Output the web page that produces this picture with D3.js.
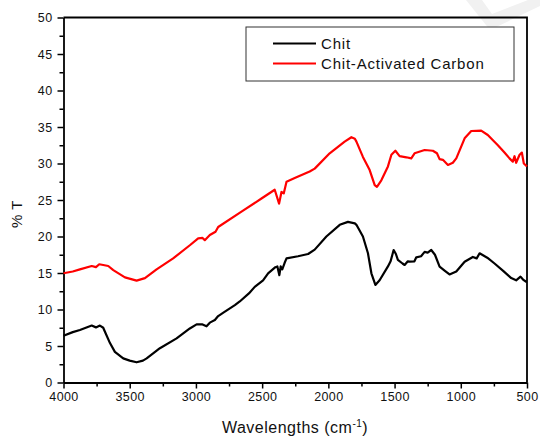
<!DOCTYPE html>
<html>
<head>
<meta charset="utf-8">
<script src="https://cdn.jsdelivr.net/npm/d3@7"></script>
<style>
  body { margin: 0; background: #fff; }
  svg text { font-family: "Liberation Sans", Arial, sans-serif; fill: #111; }
</style>
</head>
<body>
<svg id="chart" width="540" height="438"></svg>
<script>
// Chit (black)
const chitWn = [4000,3930,3876,3787,3755,3725,3700,3687,3649,3612,3549,3500,3448,3400,3372,3272,3146,3046,2995,2950,2920,2895,2857,2832,2790,2706,2669,2600,2556,2493,2455,2400,2385,2370,2360,2348,2330,2316,2229,2153,2103,2015,1914,1852,1800,1788,1739,1701,1675,1645,1613,1550,1530,1507,1490,1475,1440,1424,1400,1386,1350,1336,1300,1273,1250,1223,1195,1160,1120,1085,1034,971,909,880,858,800,745,680,619,582,549,530,506,500];
const chitT = [6.4,6.9,7.2,7.8,7.55,7.8,7.5,6.96,5.4,4.2,3.3,3.0,2.77,3.0,3.3,4.7,6.05,7.4,7.97,7.95,7.7,8.2,8.56,9.1,9.6,10.6,11.1,12.2,13.1,14.0,14.95,15.8,15.9,14.7,15.9,15.5,16.4,17.0,17.3,17.6,18.2,20.0,21.6,22.0,21.8,21.6,20.0,17.7,14.96,13.36,14.0,15.9,16.6,18.15,17.6,16.8,16.3,16.1,16.6,16.55,16.6,17.15,17.3,17.9,17.8,18.15,17.5,15.86,15.3,14.8,15.2,16.55,17.2,17.0,17.7,17.1,16.3,15.3,14.3,14.0,14.5,14.1,13.8,13.8];

// Chit-Activated Carbon (red)
const carbonWn = [4000,3930,3876,3787,3755,3730,3700,3662,3624,3536,3448,3385,3297,3172,3046,2983,2950,2933,2895,2852,2832,2656,2505,2405,2372,2354,2337,2316,2254,2141,2103,1990,1877,1826,1800,1788,1739,1688,1650,1633,1600,1550,1524,1494,1462,1411,1374,1349,1273,1211,1180,1160,1135,1097,1060,1034,971,921,846,796,720,670,632,607,594,582,556,539,524,506,500];
const carbonT = [14.96,15.2,15.5,15.96,15.8,16.2,16.1,15.96,15.4,14.4,13.95,14.3,15.5,17.0,18.8,19.75,19.8,19.5,20.2,20.66,21.3,23.4,25.2,26.4,24.5,26.1,25.9,27.5,28.0,28.9,29.3,31.4,33.0,33.6,33.4,33.0,30.9,29.1,27.05,26.8,27.7,29.6,31.2,31.75,31.0,30.85,30.7,31.4,31.85,31.75,31.4,30.6,30.5,29.8,30.1,30.7,33.45,34.45,34.5,33.9,32.5,31.5,30.7,30.25,31.0,30.1,31.2,31.5,30.0,29.7,29.6];

const seriesNames = ["Chit", "Chit-Activated Carbon"];
const seriesColors = ["#000000", "#ff0000"];
const xTicks = [4000, 3500, 3000, 2500, 2000, 1500, 1000, 500];
const yTicks = [0, 5, 10, 15, 20, 25, 30, 35, 40, 45, 50];

const svg = d3.select("#chart");

// faint watermark in the corner
svg.append("path")
  .attr("d", "M466,0 L482,0 L492,14 L528,0 L540,0 L540,6 L490,30 Z")
  .style("fill", "#f1f1f1");

const x = d3.scaleLinear().domain([4000, 500]).range([63.5, 527]);
const y = d3.scaleLinear().domain([0, 50]).range([382.5, 17.5]);

// minor ticks
svg.append("g")
  .attr("transform", "translate(0,382.5)")
  .call(d3.axisBottom(x).tickValues(d3.range(3750, 500, -500)).tickSize(4).tickFormat(""))
  .call((g) => g.select(".domain").remove())
  .selectAll("line").style("stroke-width", 1.5);

svg.append("g")
  .attr("transform", "translate(63.5,0)")
  .call(d3.axisLeft(y).tickValues(d3.range(2.5, 50, 5)).tickSize(4).tickFormat(""))
  .call((g) => g.select(".domain").remove())
  .selectAll("line").style("stroke-width", 1.5);

// major axes
let xAxis = svg.append("g")
  .attr("transform", "translate(0,382.5)")
  .call(d3.axisBottom(x).tickValues(xTicks).tickSize(6).tickSizeOuter(0).tickPadding(4).tickFormat(d3.format("d")));
xAxis.selectAll("line").style("stroke-width", 1.5);
xAxis.selectAll("text").style("font-size", "12.5px").style("letter-spacing", "0.4px");

let yAxis = svg.append("g")
  .attr("transform", "translate(63.5,0)")
  .call(d3.axisLeft(y).tickValues(yTicks).tickSize(6).tickSizeOuter(0).tickPadding(5).tickFormat(d3.format("d")));
yAxis.selectAll("line").style("stroke-width", 1.5);
yAxis.selectAll("text").style("font-size", "12.5px").style("letter-spacing", "0.4px");

svg.selectAll(".domain").style("stroke-width", 1.8);

// top and right frame
svg.append("path")
  .attr("d", `M${x(4000)},${y(50)} H${x(500)} V${y(0)}`)
  .style("fill", "none")
  .style("stroke", "#000")
  .style("stroke-width", 1.8);

// curves
let line = d3.line()
  .x((d) => x(d[0]))
  .y((d) => y(d[1]));

let chitData = chitWn.map((w, i) => [w, chitT[i]]);
let carbonData = carbonWn.map((w, i) => [w, carbonT[i]]);

[chitData, carbonData].forEach((data, i) => {
  svg.append("path")
    .datum(data)
    .attr("d", line)
    .style("fill", "none")
    .style("stroke", seriesColors[i])
    .style("stroke-width", 2.2)
    .style("stroke-linejoin", "round");
});

// axis titles
svg.append("text")
  .attr("transform", "translate(22,214) rotate(-90)")
  .attr("text-anchor", "middle")
  .style("font-size", "15px")
  .style("letter-spacing", "0.5px")
  .text("% T");

let xTitle = svg.append("text")
  .attr("x", 295)
  .attr("y", 433)
  .attr("text-anchor", "middle")
  .style("font-size", "16px")
  .style("letter-spacing", "0.5px");
xTitle.append("tspan").text("Wavelengths (cm");
xTitle.append("tspan").attr("dy", -6).style("font-size", "10px").text("-1");
xTitle.append("tspan").attr("dy", 6).text(")");

// legend
let legend = svg.append("g");
legend.append("rect")
  .attr("x", 246)
  .attr("y", 27)
  .attr("width", 268)
  .attr("height", 54)
  .style("fill", "#fff")
  .style("stroke", "#333")
  .style("stroke-width", 1);

seriesNames.forEach((name, i) => {
  let ly = 43.5 + i * 20;
  legend.append("line")
    .attr("x1", 273).attr("x2", 316)
    .attr("y1", ly).attr("y2", ly)
    .style("stroke", seriesColors[i])
    .style("stroke-width", 2.2);
  legend.append("text")
    .attr("x", 321)
    .attr("y", ly + 5.5)
    .style("font-size", "15px")
    .style("letter-spacing", "0.8px")
    .text(name);
});
</script>
</body>
</html>
